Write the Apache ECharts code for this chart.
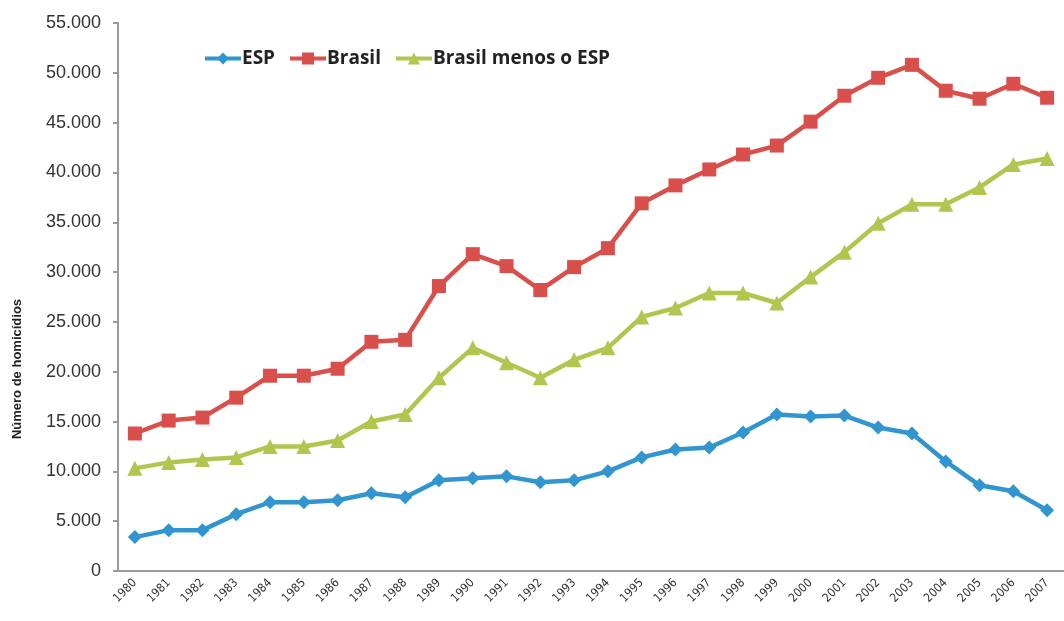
<!DOCTYPE html>
<html>
<head>
<meta charset="utf-8">
<script src="https://cdn.jsdelivr.net/npm/echarts@6/dist/echarts.min.js"></script>
<style>
html,body{margin:0;padding:0;background:#fff;}
#c{width:1064px;height:621px;}
</style>
</head>
<body>
<div id="c"></div>
<script>
const years = ['1980','1981','1982','1983','1984','1985','1986','1987','1988','1989','1990','1991','1992','1993','1994','1995','1996','1997','1998','1999','2000','2001','2002','2003','2004','2005','2006','2007'];
const esp = [3400,4100,4100,5700,6900,6900,7100,7800,7400,9100,9300,9500,8900,9100,10000,11400,12200,12400,13900,15700,15500,15600,14400,13800,11000,8600,8000,6100];
const brasil = [13800,15100,15400,17400,19600,19600,20300,23000,23200,28600,31800,30600,28200,30500,32400,36900,38700,40300,41800,42700,45100,47700,49500,50800,48200,47400,48900,47500];
const brasilMenosEsp = [10300,10900,11200,11400,12500,12500,13100,15000,15700,19400,22400,20900,19400,21200,22400,25500,26400,27900,27900,26900,29500,32000,34900,36800,36800,38500,40800,41400];
const yTicks = [0,5000,10000,15000,20000,25000,30000,35000,40000,45000,50000,55000];

const fmt = v => String(v).replace(/\B(?=(\d{3})+(?!\d))/g, '.');
const chart = echarts.init(document.getElementById('c'));
chart.setOption({
  animation: false,
  backgroundColor: '#fff',
  grid: {left: 118, right: -11, top: 23, bottom: 50},
  legend: {
    left: 198, top: 44,
    itemWidth: 36, itemHeight: 15, itemGap: 13,
    lineStyle: {width: 4},
    textStyle: {fontFamily: 'Open Sans', fontWeight: 'bold', fontSize: 19, color: '#222', padding: [0, 0, 0, -4]},
    data: ['ESP', 'Brasil', 'Brasil menos o ESP']
  },
  graphic: [{
    type: 'text', x: 17, y: 369, rotation: Math.PI / 2,
    style: {text: 'Número de homicídios', fontFamily: 'Liberation Sans', fontWeight: 'bold', fontSize: 13, fill: '#222', align: 'center', verticalAlign: 'middle'}
  }],
  xAxis: {
    type: 'category', data: years, boundaryGap: true,
    axisLine: {lineStyle: {color: '#9a9a9a', width: 2}},
    axisTick: {length: 5, lineStyle: {color: '#9a9a9a', width: 2}},
    axisLabel: {rotate: 45, fontSize: 12, color: '#333', fontFamily: 'DejaVu Sans Condensed', margin: 10, interval: 0}
  },
  yAxis: {
    type: 'value', min: 0, max: 55000, interval: 5000,
    splitLine: {show: false},
    axisLine: {show: true, lineStyle: {color: '#9a9a9a', width: 2}},
    axisTick: {show: true, length: 5, lineStyle: {color: '#9a9a9a', width: 2}},
    axisLabel: {formatter: fmt, fontSize: 18, color: '#333', fontFamily: 'Liberation Sans', margin: 17}
  },
  series: [
    {name: 'ESP', type: 'line', data: esp, symbol: 'diamond', symbolSize: 14,
     itemStyle: {color: '#3196CF'}, lineStyle: {width: 4.5, color: '#3196CF'}},
    {name: 'Brasil', type: 'line', data: brasil, symbol: 'rect', symbolSize: 14,
     itemStyle: {color: '#D94F4B'}, lineStyle: {width: 4.5, color: '#D94F4B'}},
    {name: 'Brasil menos o ESP', type: 'line', data: brasilMenosEsp, symbol: 'triangle', symbolSize: 15,
     itemStyle: {color: '#B3C54F'}, lineStyle: {width: 4.5, color: '#B3C54F'}}
  ]
});
</script>
</body>
</html>
